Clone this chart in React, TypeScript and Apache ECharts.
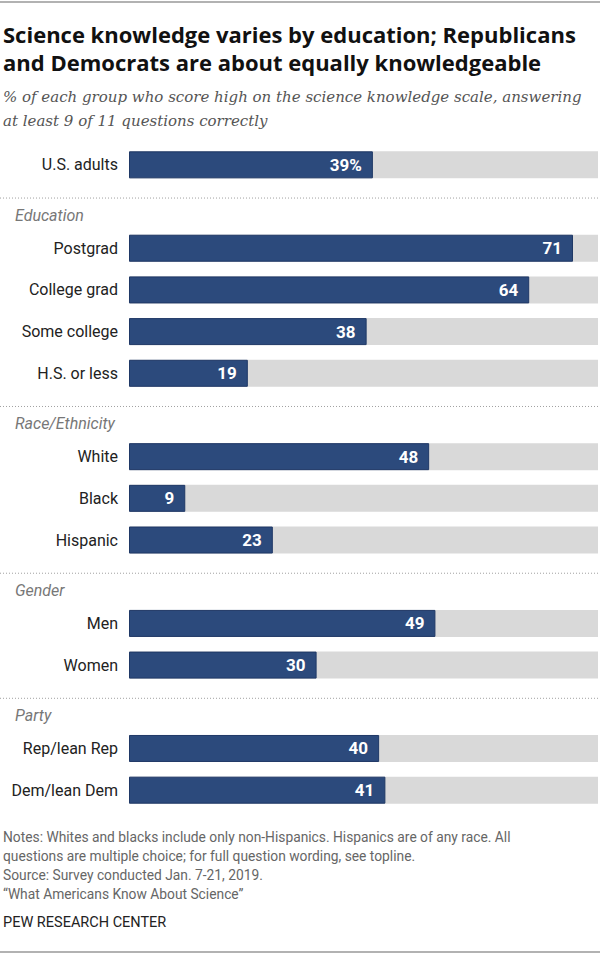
import React, { useEffect, useRef } from 'react';
import * as echarts from 'echarts';

const categories = [
  'U.S. adults',
  'Education',
  'Postgrad',
  'College grad',
  'Some college',
  'H.S. or less',
  'Race/Ethnicity',
  'White',
  'Black',
  'Hispanic',
  'Gender',
  'Men',
  'Women',
  'Party',
  'Rep/lean Rep',
  'Dem/lean Dem',
];
const headers = ['Education', 'Race/Ethnicity', 'Gender', 'Party'];
const values: (number | null)[] = [39, null, 71, 64, 38, 19, null, 48, 9, 23, null, 49, 30, null, 40, 41];
const scaleMax = 75;

const titleLines = [
  'Science knowledge varies by education; Republicans',
  'and Democrats are about equally knowledgeable',
];
const subtitleLines = [
  '% of each group who score high on the science knowledge scale, answering',
  'at least 9 of 11 questions correctly',
];
const noteLines = [
  'Notes: Whites and blacks include only non-Hispanics. Hispanics are of any race. All',
  'questions are multiple choice; for full question wording, see topline.',
  'Source: Survey conducted Jan. 7-21, 2019.',
  '\u201cWhat Americans Know About Science\u201d',
];
const credit = 'PEW RESEARCH CENTER';

const SANS = 'Roboto, "Liberation Sans", sans-serif';
const TITLE = '"Open Sans", Roboto, sans-serif';
const SERIF = '"DejaVu Serif", "Liberation Serif", serif';
const W = 600;
const H = 957;

export default function App() {
  const ref = useRef<HTMLDivElement>(null);

  useEffect(() => {
    document.body.style.margin = '0';
    if (!ref.current) return;
    const chart = echarts.init(ref.current, null, { renderer: 'svg' });

    const option: any = {
      animation: false,
      backgroundColor: '#ffffff',
      grid: { left: 129, right: 2, top: 144, bottom: 146, containLabel: false },
      xAxis: { type: 'value', min: 0, max: scaleMax, show: false },
      yAxis: {
        type: 'category',
        inverse: true,
        data: categories,
        axisLine: { show: false },
        axisTick: { show: false },
        splitLine: { show: false },
        axisLabel: {
          margin: 11,
          fontSize: 16,
          fontFamily: SANS,
          color: '#222222',
          formatter: (v: string) => (headers.includes(v) ? '' : v),
        },
      },
      series: [
        {
          type: 'bar',
          name: 'background',
          data: values.map((v) => (v == null ? '-' : scaleMax)),
          barWidth: 27,
          barGap: '-100%',
          itemStyle: { color: '#d9d9d9' },
          silent: true,
          z: 1,
        },
        {
          type: 'bar',
          name: 'share',
          data: values.map((v) => (v == null ? '-' : v)),
          barWidth: 27,
          barGap: '-100%',
          itemStyle: { color: '#2c4a7c', borderColor: '#1f3866', borderWidth: 1 },
          z: 2,
          label: {
            show: true,
            position: 'insideRight',
            distance: 11,
            color: '#ffffff',
            fontFamily: SANS,
            fontWeight: 'bold',
            fontSize: 17,
            formatter: (p: any) => (p.dataIndex === 0 ? p.value + '%' : String(p.value)),
          },
        },
      ],
    };
    chart.setOption(option);

    const graphic: any[] = [];
    const hline = (y: number, color: string, width: number, dash?: number[]) => ({
      type: 'line',
      shape: { x1: 0, y1: y, x2: W, y2: y },
      style: { stroke: color, lineWidth: width, lineDash: dash },
      silent: true,
    });
    const text = (t: string, x: number, y: number, font: string, fill: string) => ({
      type: 'text',
      x,
      y,
      style: { text: t, font, fill, textAlign: 'left', textVerticalAlign: 'middle' },
      silent: true,
    });

    graphic.push(hline(2, '#999999', 1.5));
    graphic.push(hline(952, '#999999', 1.5));
    graphic.push(text(titleLines[0], 3, 33.5, `bold 22px ${TITLE}`, '#111111'));
    graphic.push(text(titleLines[1], 3, 61.8, `bold 22px ${TITLE}`, '#111111'));
    graphic.push(text(subtitleLines[0], 3, 96.7, `italic 15px ${SERIF}`, '#555555'));
    graphic.push(text(subtitleLines[1], 3, 120.5, `italic 15px ${SERIF}`, '#555555'));

    headers.forEach((h) => {
      const cy = chart.convertToPixel({ yAxisIndex: 0 }, h) as number;
      graphic.push(hline(cy - 8.5, '#a0a0a0', 1, [1, 2]));
      graphic.push(text(h, 15, cy + 8.5, `italic 16px ${SANS}`, '#777777'));
    });

    const noteY = [836.8, 855.8, 875, 894];
    noteLines.forEach((n, i) => graphic.push(text(n, 3, noteY[i], `13.8px ${SANS}`, '#666666')));
    graphic.push(text(credit, 3, 922.7, `14.5px ${SANS}`, '#222222'));

    chart.setOption({ graphic });

    return () => chart.dispose();
  }, []);

  return <div ref={ref} style={{ width: W, height: H }} />;
}
